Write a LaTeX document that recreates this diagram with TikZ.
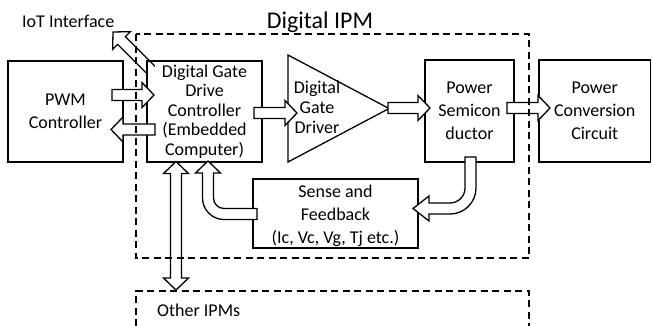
\documentclass[tikz,border=0pt]{standalone}
\usepackage{fontspec}
\setmainfont{Carlito}
\usetikzlibrary{calc}
\tikzset{
  box/.style={draw, line width=1.3pt, inner sep=0pt, align=center,
    font=\fontsize{18}{23}\selectfont},
  fat/.style={draw, fill=white, line width=1.3pt, line join=miter},
  ipm/.style={draw, line width=1.3pt, dash pattern=on 7pt off 4.5pt},
  lbl/.style={inner sep=0pt, font=\fontsize{18}{23}\selectfont},
}
\newcommand\fw{5.5}
\newcommand\fH{12.5}
\newcommand\fh{12}
\newcommand\getvec[2]{%
  \path let \p1=($(#2)-(#1)$) in \pgfextra{%
    \pgfmathsetmacro\faangtmp{atan2(\y1,\x1)}%
    \pgfmathsetmacro\falentmp{veclen(\x1,\y1)}%
    \xdef\faang{\faangtmp}\xdef\falen{\falentmp}};}
\newcommand\fatarrow[2]{%
  \getvec{#1}{#2}%
  \draw[fat, shift={(#1)}, rotate=\faang]
    (0,-\fw) -- ({\falen-\fh},-\fw) -- ({\falen-\fh},-\fH) -- (\falen,0)
    -- ({\falen-\fh},\fH) -- ({\falen-\fh},\fw) -- (0,\fw) -- cycle;}
\newcommand\fatdarrow[2]{%
  \getvec{#1}{#2}%
  \draw[fat, shift={(#1)}, rotate=\faang]
    (\fh,-\fw) -- ({\falen-\fh},-\fw) -- ({\falen-\fh},-\fH) -- (\falen,0)
    -- ({\falen-\fh},\fH) -- ({\falen-\fh},\fw) -- (\fh,\fw) -- (\fh,\fH)
    -- (0,0) -- (\fh,-\fH) -- cycle;}
\begin{document}
\begin{tikzpicture}[x=1pt,y=1pt]
\useasboundingbox (0,0) rectangle (652,-325);
% IoT interface arrow (partly hidden behind the controller's text area)
\coordinate (iotA) at (113,-32);
\coordinate (iotB) at (163,-82);
\fatdarrow{iotA}{iotB}
\fill[white] (141,-73) -- (155,-73) -- (155,-62) -- (260,-62) -- (260,-160) -- (141,-160) -- cycle;
% blocks
\node[box, minimum width=115pt, minimum height=101pt] (pwm) at (65.5,-111.5) {PWM\\Controller};
\node[box, minimum width=115pt, minimum height=101pt,
  font=\fontsize{18}{19.4}\selectfont] (dgdc) at (204.5,-111.5)
  {Digital Gate\\Drive\\Controller\\(Embedded\\Computer)};
\coordinate (tA) at (288,-55);
\coordinate (tB) at (288,-162);
\coordinate (tC) at (389,-108.5);
\draw[line width=1.3pt, line join=miter] (tA) -- (tC) -- (tB) -- cycle;
\node[lbl, align=center, font=\fontsize{18}{20}\selectfont] (drv) at (317,-107) {Digital\\Gate\\Driver};
\node[box, minimum width=89pt, minimum height=102pt] (ps) at (469.5,-111) {Power\\Semicon\\ductor};
\node[box, minimum width=111.5pt, minimum height=102pt] (pc) at (594.75,-111) {Power\\Conversion\\Circuit};
\node[box, minimum width=165pt, minimum height=69pt] (sense) at (335.5,-213.5) {};
\node[lbl, align=center] (sensetxt) at (335.5,-215.5) {Sense and\\Feedback\\(Ic, Vc, Vg, Tj etc.)};
% straight block arrows
\coordinate (a1s) at (112,-95);   \coordinate (a1e) at (154,-95);
\coordinate (a2s) at (155,-129.5); \coordinate (a2e) at (111,-129.5);
\coordinate (a3s) at (254,-113);  \coordinate (a3e) at (297,-113);
\coordinate (a4s) at (388,-108);  \coordinate (a4e) at (430,-108);
\coordinate (a5s) at (507,-108);  \coordinate (a5e) at (550,-108);
\coordinate (v1) at (176,-161.5); \coordinate (v2) at (176,-290);
\fatarrow{a1s}{a1e}
\fatarrow{a2s}{a2e}
\fatarrow{a3s}{a3e}
\fatarrow{a4s}{a4e}
\fatarrow{a5s}{a5e}
\fatdarrow{v1}{v2}
% feedback: sense -> controller
\draw[fat] (257,-208.5) -- (224,-208.5) arc[start angle=270,end angle=180,radius=10.5pt]
  -- (213.5,-173) -- (220.5,-173) -- (208,-161) -- (195.5,-173) -- (202.5,-173)
  -- (202.5,-198) arc[start angle=180,end angle=270,radius=21.5pt] -- (257,-219.5) -- cycle;
% power semiconductor -> sense
\draw[fat] (465,-157) -- (476,-157) -- (476,-188) arc[start angle=0,end angle=-90,radius=26pt]
  -- (429,-214) -- (429,-221) -- (413,-208.5) -- (429,-196) -- (429,-203)
  -- (450,-203) arc[start angle=-90,end angle=0,radius=15pt] -- cycle;
% dashed frames
\draw[ipm] (136,-34) rectangle (529,-258);
\draw[ipm] (136,-326) -- (136,-291) -- (529,-291) -- (529,-326);
% labels
\node[lbl, anchor=base, font=\fontsize{24}{28}\selectfont] (title) at (320,-28) {Digital IPM};
\node[lbl, anchor=base west] (iot) at (22,-27) {IoT Interface};
\node[lbl, anchor=base west] (other) at (157,-316) {Other IPMs};
\end{tikzpicture}
\end{document}
